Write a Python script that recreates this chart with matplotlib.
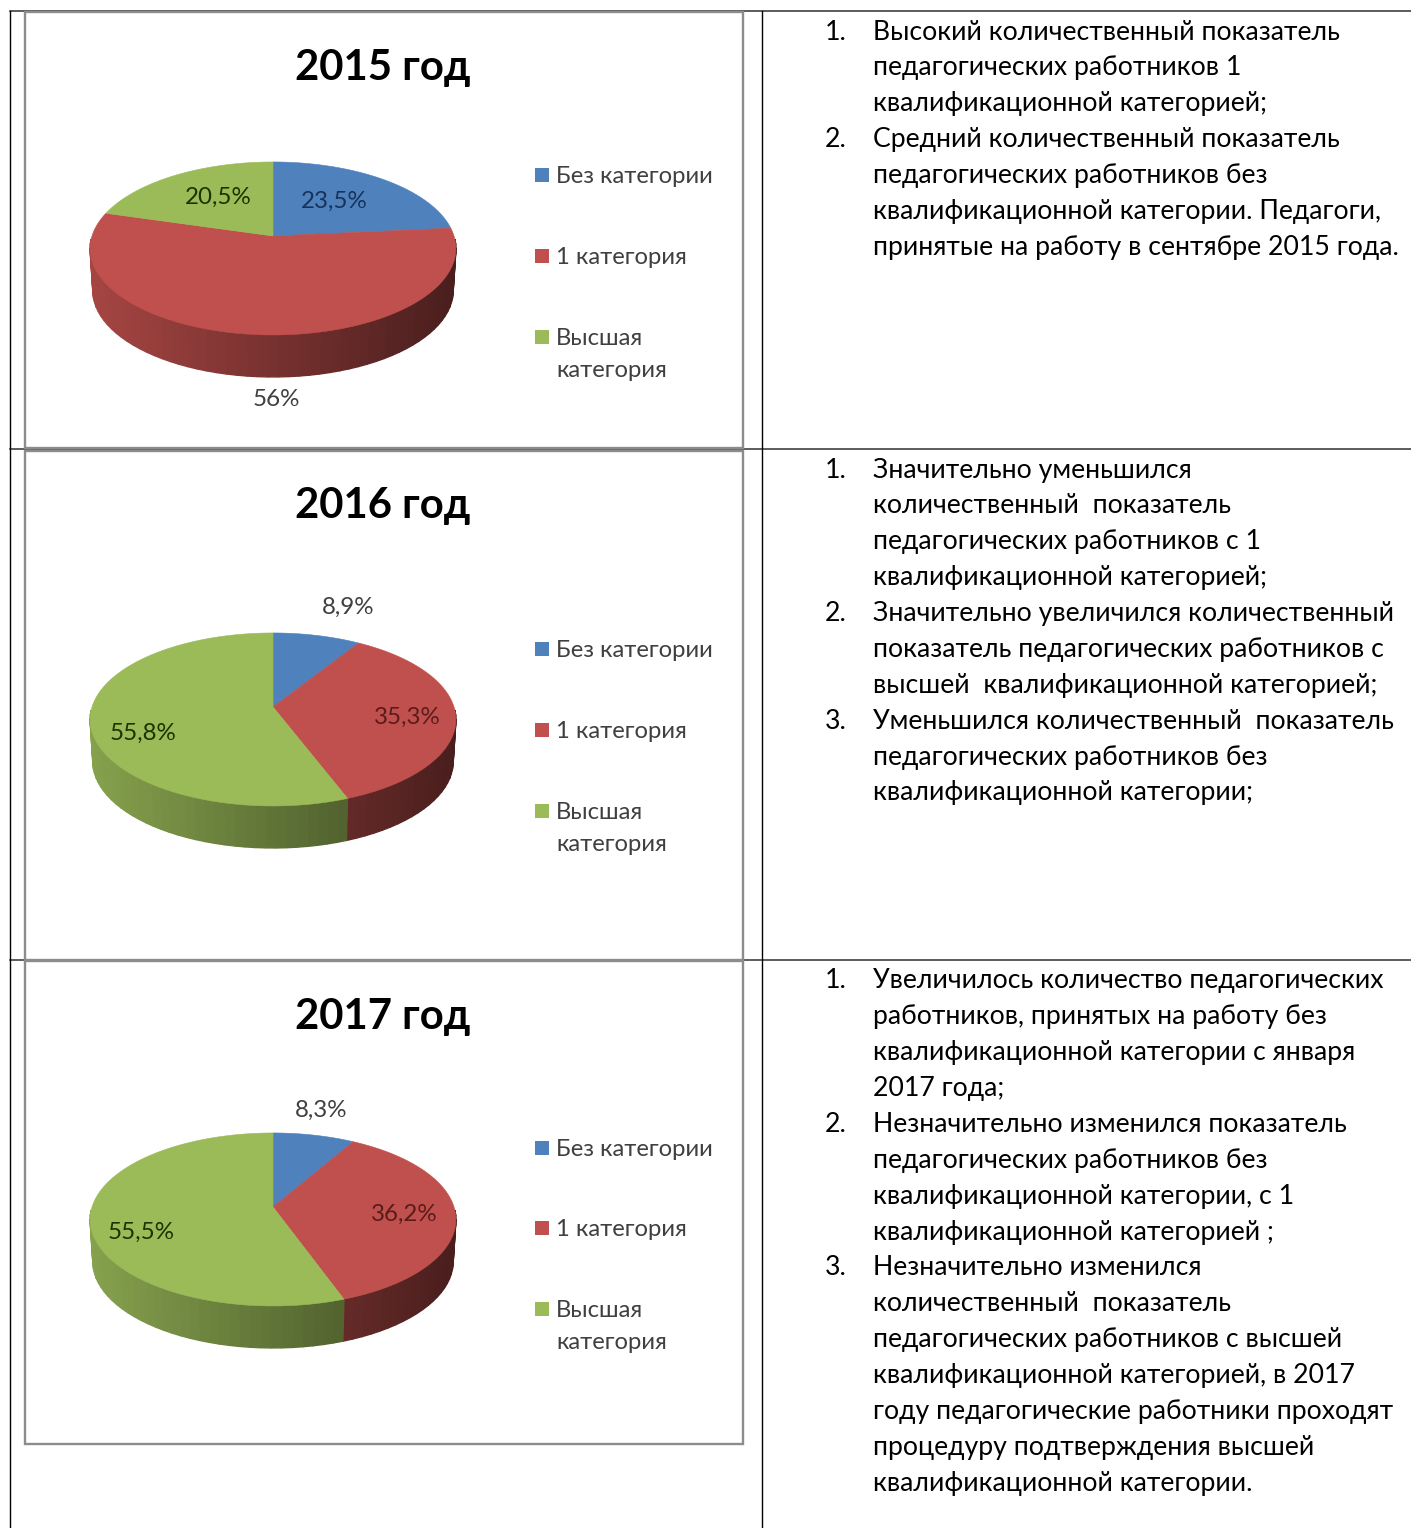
import numpy as np
import matplotlib
matplotlib.use("Agg")
import matplotlib.pyplot as plt
from matplotlib.colors import to_rgb

plt.rcParams["font.family"] = ["Lato", "Open Sans", "DejaVu Sans"]

years = ["2015 год", "2016 год", "2017 год"]
categories = ["Без категории", "1 категория", "Высшая\nкатегория"]
values_2015 = [23.5, 56, 20.5]
values_2016 = [8.9, 35.3, 55.8]
values_2017 = [8.3, 36.2, 55.5]
labels_2015 = ["23,5%", "56%", "20,5%"]
labels_2016 = ["8,9%", "35,3%", "55,8%"]
labels_2017 = ["8,3%", "36,2%", "55,5%"]
colors = ["#4F81BD", "#C0504D", "#9BBB59"]
label_colors_2015 = ["#17335c", "#404040", "#1c3300"]
label_colors_2016 = ["#404040", "#5a1c1a", "#1c3300"]
label_colors_2017 = ["#404040", "#5a1c1a", "#1c3300"]

notes_2015 = [
    ("1.", ["Высокий количественный показатель", "педагогических работников 1", "квалификационной категорией;"]),
    ("2.", ["Средний количественный показатель", "педагогических работников без",
            "квалификационной категории. Педагоги,", "принятые на работу в сентябре 2015 года."]),
]
notes_2016 = [
    ("1.", ["Значительно уменьшился", "количественный  показатель", "педагогических работников с 1",
            "квалификационной категорией;"]),
    ("2.", ["Значительно увеличился количественный", "показатель педагогических работников с",
            "высшей  квалификационной категорией;"]),
    ("3.", ["Уменьшился количественный  показатель", "педагогических работников без",
            "квалификационной категории;"]),
]
notes_2017 = [
    ("1.", ["Увеличилось количество педагогических", "работников, принятых на работу без",
            "квалификационной категории с января", "2017 года;"]),
    ("2.", ["Незначительно изменился показатель", "педагогических работников без",
            "квалификационной категории, с 1", "квалификационной категорией ;"]),
    ("3.", ["Незначительно изменился", "количественный  показатель",
            "педагогических работников с высшей", "квалификационной категорией, в 2017",
            "году педагогические работники проходят", "процедуру подтверждения высшей",
            "квалификационной категории."]),
]

W, H = 1411, 1528
fig = plt.figure(figsize=(W / 100, H / 100), dpi=100)
ax = fig.add_axes([0, 0, 1, 1])
ax.set_xlim(0, W)
ax.set_ylim(H, 0)
ax.axis("off")

# perspective of the pie, fitted on the picture
PERSP = 0.144
RX, RY, DEPTH = 181, 84.7, 42
CX = 273
BOTTOM_SCALE = 0.985


def rim(theta, cy):
    w = 1 + PERSP * np.cos(theta)
    return CX + RX * np.sin(theta) / w, cy - RY * np.cos(theta) / w


def pie3d(values, cy):
    edges = np.deg2rad(np.cumsum([0] + list(values)) * 3.6)
    lo, hi = np.deg2rad(92), np.deg2rad(268)
    for i, c in enumerate(colors):
        # side wall first, strip by strip
        a0, a1 = max(edges[i], lo), min(edges[i + 1], hi)
        if a1 <= a0:
            continue
        t = np.linspace(a0, a1, max(2, int((a1 - a0) / 0.05) + 1))
        base = np.array(to_rgb(c))
        for a, b in zip(t[:-1], t[1:]):
            xa, ya = rim(a, cy)
            xb, yb = rim(b, cy)
            xa2 = CX + (xa - CX) * BOTTOM_SCALE
            xb2 = CX + (xb - CX) * BOTTOM_SCALE
            f = 0.86 - 0.48 * ((xa + xb) / 2 - (CX - RX)) / (2 * RX)
            ax.fill([xa, xb, xb2, xa2], [ya, yb, yb + DEPTH, ya + DEPTH],
                    facecolor=tuple(base * f), edgecolor=tuple(base * f), lw=1.0, zorder=2)
    for i, c in enumerate(colors):
        t = np.linspace(edges[i], edges[i + 1], 120)
        x, y = rim(t, cy)
        ax.fill(np.r_[CX, x], np.r_[cy, y], color=c, lw=0.4, zorder=3)


charts = [
    (years[0], values_2015, labels_2015, label_colors_2015, 236, 80,
     [(334, 201), (276, 400), (218, 197)], [175, 256, 337]),
    (years[1], values_2016, labels_2016, label_colors_2016, 707, 518,
     [(348, 607), (407, 717), (143, 733)], [649, 730, 811]),
    (years[2], values_2017, labels_2017, label_colors_2017, 1207, 1029,
     [(321, 1110), (404, 1214), (141, 1232)], [1148, 1228, 1309]),
]
for title, vals, labs, lab_cols, cy, title_y, lab_pos, leg_y in charts:
    pie3d(vals, cy)
    ax.text(383, title_y, title, fontsize=30.2, fontweight="bold", ha="center", va="baseline",
            color="black", zorder=5)
    for lab, col, (lx, ly) in zip(labs, lab_cols, lab_pos):
        ax.text(lx, ly, lab, fontsize=17.4, ha="center", va="center", color=col, zorder=5)
    for cat, c, ly in zip(categories, colors, leg_y):
        ax.fill([535, 549, 549, 535], [ly - 7, ly - 7, ly + 7, ly + 7], color=c, lw=0, zorder=5)
        lines = cat.split("\n")
        for j, s in enumerate(lines):
            ax.text(556, ly + 8 + 32 * j, s, fontsize=17.2, ha="left", va="baseline", color="#404040", zorder=5)

# table rules and chart frames
for y in [11, 449, 960]:
    ax.plot([10, W], [y, y], color="#303030", lw=1.1, zorder=1)
for x in [10, 762]:
    ax.plot([x, x], [11, H], color="black", lw=1.0, zorder=1)
for x0, y0, x1, y1 in [(25, 12, 743, 448), (25, 451, 743, 960), (25, 961, 743, 1444)]:
    ax.fill([x0, x1, x1, x0], [y0, y0, y1, y1], facecolor="white", edgecolor="#8c8c8c", lw=1.7, zorder=1.5)

# notes on the right, one baseline per row
note_rows = [
    (notes_2015, [40, 75, 111, 147, 183, 219, 255]),
    (notes_2016, [478, 513, 549, 585, 621, 657, 693, 729, 765, 800]),
    (notes_2017, [988, 1024, 1060, 1096, 1132, 1168, 1204, 1240, 1275, 1311, 1347, 1383, 1419, 1455, 1491]),
]
for notes, baselines in note_rows:
    k = 0
    for num, lines in notes:
        ax.text(825, baselines[k], num, fontsize=19.2, va="baseline", color="black", zorder=5)
        for s in lines:
            ax.text(873, baselines[k], s, fontsize=19.2, va="baseline", color="black", zorder=5)
            k += 1

fig.savefig("out.png", dpi=100, facecolor="white")
